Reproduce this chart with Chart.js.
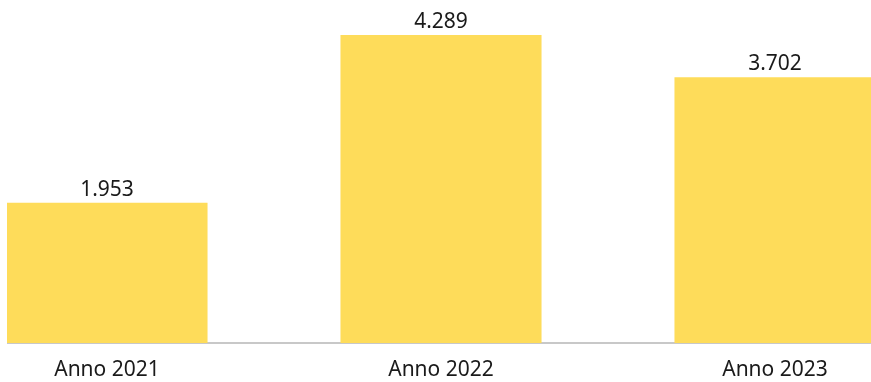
<!DOCTYPE html>
<html>
<head>
<meta charset="utf-8">
<script src="https://cdn.jsdelivr.net/npm/chart.js@4"></script>
<style>
  html, body { margin: 0; padding: 0; background: #fff; }
  #wrap { position: absolute; left: 7px; top: 0; width: 864px; height: 382px; overflow: hidden; }
  #barChart { position: absolute; left: -67px; top: 0; }
</style>
</head>
<body>
<div id="wrap"><canvas id="barChart" width="1002" height="382"></canvas></div>
<script>
const categories = ["Anno 2021", "Anno 2022", "Anno 2023"];
const values = [1953, 4289, 3702];

const fontFamily = "'Noto Sans', sans-serif";

// thousands with a dot, like 1.953
const fmt = v => String(v).replace(/\B(?=(\d{3})+(?!\d))/g, ".");

// value labels over the bars
const valueLabels = {
  id: "valueLabels",
  afterDatasetsDraw(chart) {
    const ctx = chart.ctx;
    const meta = chart.getDatasetMeta(0);
    ctx.save();
    ctx.font = "21px " + fontFamily;
    ctx.fillStyle = "#1a1a1a";
    ctx.textAlign = "center";
    ctx.textBaseline = "alphabetic";
    meta.data.forEach((bar, i) => {
      ctx.fillText(fmt(values[i]), bar.x, bar.y - 7);
    });
    ctx.restore();
  }
};

new Chart(document.getElementById("barChart"), {
  type: "bar",
  data: {
    labels: categories,
    datasets: [{
      data: values,
      backgroundColor: "#FEDC5A",
      barPercentage: 0.602,
      categoryPercentage: 1
    }]
  },
  options: {
    responsive: false,
    animation: false,
    layout: { padding: 0 },
    plugins: { legend: { display: false }, tooltip: { enabled: false } },
    scales: {
      x: {
        grid: { display: false, drawTicks: false },
        border: { display: true, color: "#c8c8c8", width: 2 },
        ticks: { color: "#1a1a1a", font: { family: fontFamily, size: 21 }, padding: 14, maxRotation: 0 },
        afterFit: s => { s.height = 39; }
      },
      y: {
        display: false,
        min: 0,
        max: 4776
      }
    }
  },
  plugins: [valueLabels]
});
</script>
</body>
</html>
